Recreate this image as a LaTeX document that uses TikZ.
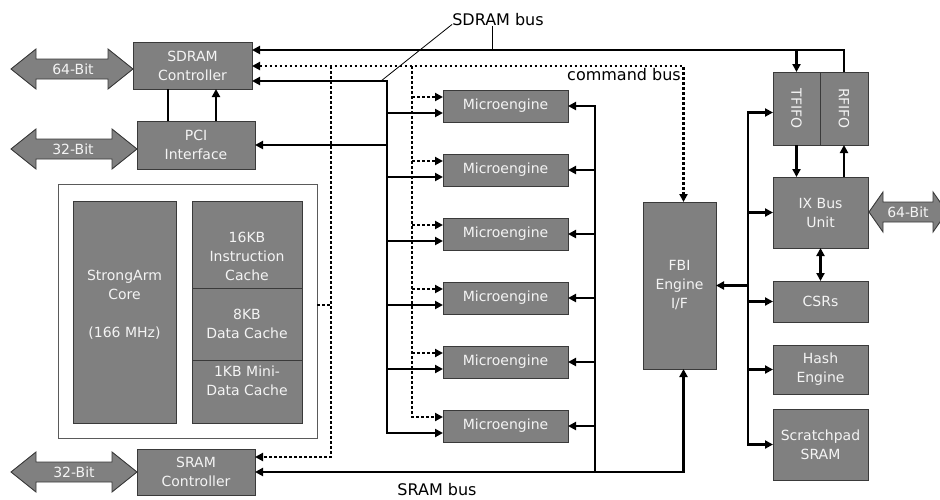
\documentclass[tikz,border=0pt]{standalone}
\usepackage{fontspec}
\usepackage{graphicx}
\setmainfont{DejaVu Sans}
\usetikzlibrary{arrows.meta,calc}
\definecolor{boxfill}{HTML}{808080}
\definecolor{boxline}{HTML}{3A3A3A}
\definecolor{boxtext}{HTML}{F4F4F4}
\definecolor{frame}{HTML}{5A5A5A}
\tikzset{
  blk/.style={draw=boxline, line width=0.9pt, fill=boxfill, text=boxtext,
    inner sep=0pt, outer sep=0pt, align=center,
    font=\fontsize{14}{19}\selectfont},
  blktxt/.style={text=boxtext, inner sep=0pt, align=center,
    font=\fontsize{14}{19}\selectfont},
  widearrow/.style={draw=boxline, line width=0.9pt, fill=boxfill},
  bus/.style={line width=2.6pt},
  cmd/.style={line width=2.6pt, dash pattern=on 2.6pt off 2.4pt},
  fine/.style={line width=0.8pt},
  lbl/.style={inner sep=0pt, font=\fontsize{16}{19}\selectfont},
}
% wide double-headed bus arrow: left x, right x, centre y, head length
\newcommand\widebusarrow[4]{%
  \filldraw[widearrow] (#1,#3) -- (#1+#4,#3-20) -- (#1+#4,#3-10) -- (#2-#4,#3-10)
    -- (#2-#4,#3-20) -- (#2,#3) -- (#2-#4,#3+20) -- (#2-#4,#3+10)
    -- (#1+#4,#3+10) -- (#1+#4,#3+20) -- cycle;}
\begin{document}
\begin{tikzpicture}[x=1pt, y=-1pt, >={Triangle[length=8pt,width=8pt]}]
\useasboundingbox (0,0) rectangle (940,499);
\begin{scope}
\clip (0,0) rectangle (940,499);

% external wide bus arrows
\widebusarrow{11}{133}{69}{25}
\widebusarrow{11}{137}{149}{25}
\widebusarrow{11}{137}{472}{25}
\widebusarrow{869}{947}{212}{14}
\node[blktxt] (w64a) at (73,69) {64-Bit};
\node[blktxt] (w32a) at (73,149) {32-Bit};
\node[blktxt] (w32b) at (74,472) {32-Bit};
\node[blktxt] (w64b) at (908,212) {64-Bit};

% controllers
\node[blk, minimum width=119pt, minimum height=47pt] (sdramc) at (192.5,65.5) {SDRAM\\Controller};
\node[blk, minimum width=118pt, minimum height=48pt] (pci) at (196,145) {PCI\\Interface};
\node[blk, minimum width=118pt, minimum height=46pt] (sramc) at (196,472) {SRAM\\Controller};

% StrongArm core block
\node[draw=frame, line width=0.9pt, fill=white, minimum width=259pt, minimum height=254pt,
  inner sep=0pt, outer sep=0pt] (outer) at (187.5,311) {};
\node[blk, minimum width=103pt, minimum height=222pt] (core) at (124.5,312) {};
\node[blktxt] (coretxt) at (124.5,304.5) {StrongArm\\Core\\[19pt](166 MHz)};
\node[blk, minimum width=110pt, minimum height=87pt] (icache) at (247,244.5) {};
\node[blktxt] (icachetxt) at (247,256) {16KB\\Instruction\\Cache};
\node[blk, minimum width=110pt, minimum height=72pt] (dcache) at (247,324) {8KB\\Data Cache};
\node[blk, minimum width=110pt, minimum height=63pt] (mcache) at (247,391.5) {};
\node[blktxt] (mcachetxt) at (247,381) {1KB Mini-\\Data Cache};

% microengines
\foreach \i/\y in {1/106,2/170,3/234,4/298,5/362,6/426}{
  \node[blk, minimum width=125pt, minimum height=32pt] (me\i) at (505.5,\y) {Microengine};
  \coordinate (s\i) at ($(me\i.west)+(0,7)$);
  \coordinate (d\i) at ($(me\i.west)+(0,-9)$);
}

% FBI and IX bus side
\node[blk, minimum width=73pt, minimum height=167pt] (fbi) at (679.5,285.5) {FBI\\Engine\\I/F};
\node[blk, minimum width=47pt, minimum height=73pt] (tfifo) at (796.5,108.5) {\rotatebox{-90}{TFIFO}};
\node[blk, minimum width=48pt, minimum height=73pt] (rfifo) at (844,108.5) {\rotatebox{-90}{RFIFO}};
\node[blk, minimum width=95pt, minimum height=71pt] (ix) at (820.5,212.5) {IX Bus\\Unit};
\node[blk, minimum width=95pt, minimum height=41pt] (csrs) at (820.5,301.5) {CSRs};
\node[blk, minimum width=95pt, minimum height=49pt] (hash) at (820.5,369.5) {Hash\\Engine};
\node[blk, minimum width=95pt, minimum height=71pt] (scratch) at (820.5,444.5) {Scratchpad\\SRAM};

% bus columns and rows
\coordinate (colA) at (331,0);
\coordinate (colB) at (412,0);
\coordinate (colC) at (387,0);
\coordinate (colD) at (595,0);
\coordinate (colE) at (748,0);
\coordinate (sdy) at (0,50);
\coordinate (cmdy) at (0,66);
\coordinate (mey) at (0,81);
\coordinate (sry) at (0,472);
\coordinate (srdy) at (0,457);
\coordinate (say) at (0,305);
\coordinate (fbitop) at ($(fbi.north)+(4,0)$);
\coordinate (fbibot) at ($(fbi.south)+(4,0)$);
\coordinate (tin) at ($(tfifo.west)+(0,4)$);

% SDRAM bus
\draw[bus,->] (rfifo.north) |- (sdramc.east |- sdy);
\draw[bus,->] (tfifo.north |- sdy) -- (tfifo.north);

% SDRAM controller and PCI interface
\coordinate (pa) at ($(pci.north)+(-28,0)$);
\coordinate (pb) at ($(pci.north)+(20,0)$);
\draw[bus] (pa) -- (pa |- sdramc.south);
\draw[bus,->] (pb) -- (pb |- sdramc.south);

% microengine data bus to SDRAM side
\draw[bus,<->] (sdramc.east |- mey) -| (s6 -| colC) -- (s6);
\foreach \i in {1,...,5} \draw[bus,->] (s\i -| colC) -- (s\i);
\draw[bus,->] (pci.east -| colC) -- (pci.east);

% command bus
\draw[cmd,<->] (sdramc.east |- cmdy) -| (fbitop);
\draw[cmd,->] (colA |- cmdy) |- (sramc.east |- srdy);
\draw[cmd] (outer.east |- say) -- (colA |- say);
\draw[cmd,->] (colB |- cmdy) |- (d6);
\foreach \i in {1,...,5} \draw[cmd,->] (d\i -| colB) -- (d\i);

% SRAM bus
\draw[bus,<->] (sramc.east |- sry) -| (fbibot);
\draw[bus,->] (colD |- sry) -- (me1.east -| colD) -- (me1.east);
\foreach \i in {2,...,6} \draw[bus,->] (me\i.east -| colD) -- (me\i.east);

% FBI side bus
\draw[bus,<->] (scratch.west) -- (scratch.west -| colE) -- (tin -| colE) -- (tin);
\draw[bus,->] (ix.west -| colE) -- (ix.west);
\draw[bus,->] (fbi.east -| colE) -- (fbi.east);
\draw[bus,->] (csrs.west -| colE) -- (csrs.west);
\draw[bus,->] (hash.west -| colE) -- (hash.west);
\draw[bus,->] (tfifo.south) -- (tfifo.south |- ix.north);
\draw[bus,->] (rfifo.south |- ix.north) -- (rfifo.south);
\draw[bus,<->] (ix.south) -- (csrs.north);

% bus labels
\node[lbl] (sdlbl) at (498,20) {SDRAM bus};
\coordinate (tick) at ($(sdlbl.south)+(-6,0)$);
\draw[fine] (tick) -- (tick |- sdy);
\coordinate (mecorner) at (colC |- mey);
\draw[fine] ($(sdlbl.south west)+(0,-2)$) -- ($(mecorner)+(-6,0)$);
\node[lbl] (cmdlbl) at (624,75) {command bus};
\node[lbl] (srlbl) at (437,490) {SRAM bus};
\end{scope}
\end{tikzpicture}
\end{document}
